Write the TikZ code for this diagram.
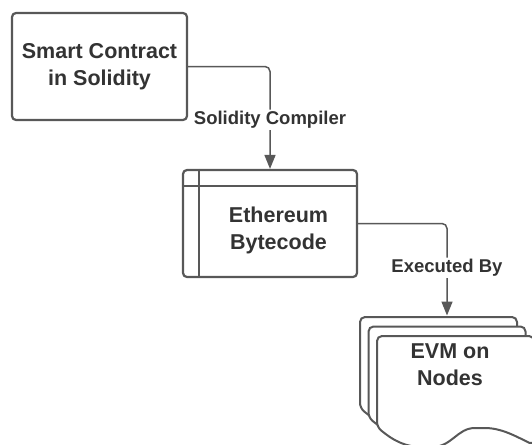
\documentclass[tikz,border=0pt]{standalone}
\usepackage{fontspec}
\setmainfont{Liberation Sans}
\usetikzlibrary{arrows.meta, positioning}
\definecolor{edgegray}{RGB}{88,88,88}
\definecolor{textgray}{RGB}{51,51,51}
\tikzset{
    block/.style={
        rectangle, draw=edgegray, line width=2.2pt, rounded corners=4pt,
        minimum width=175pt, minimum height=107pt,
        fill=white, align=center, text=textgray,
        font=\fontsize{21.5}{27}\selectfont\bfseries
    },
    boxtext/.style={
        align=center, text=textgray,
        font=\fontsize{21.5}{27}\selectfont\bfseries
    },
    layer/.style={draw=edgegray, line width=2pt, fill=white, rounded corners=5pt},
    wire/.style={draw=edgegray, line width=1.5pt, rounded corners=5pt,
        -{Triangle[length=14pt, width=11pt]}},
    wirelabel/.style={fill=white, inner sep=1.5pt, text=textgray,
        font=\fontsize{18.5}{22}\selectfont\bfseries}
}

\begin{document}
\begin{tikzpicture}[x=1pt, y=-1pt]
\useasboundingbox (0,0) rectangle (532,444);
\clip (0,0) rectangle (532,444);

% Source contract
\node[block] (contract) at (99.5,66.5) {Smart Contract\\in Solidity};

% Bytecode (internal storage box)
\node[block, minimum width=174pt] (bytecode) at (270,223.5) {};
\draw[edgegray, line width=2.2pt] ([xshift=17pt]bytecode.north west) -- ([xshift=17pt]bytecode.south west);
\draw[edgegray, line width=2.2pt] ([yshift=-17pt]bytecode.north west) -- ([yshift=-17pt]bytecode.north east);
\node[boxtext] (bytecodetext) at (278.5,230) {Ethereum\\Bytecode};

% EVM on nodes (stacked documents, back to front)
\foreach \l/\t/\b in {360/317/408, 368.5/326.5/417.5, 377/336/427} {
    \draw[layer] (\l,\b) -- (\l,\t) -- (\l+157,\t) -- (\l+157,\b+18)
        .. controls (\l+140,\b+10) and (\l+125,\b+1) .. (\l+103,\b+1)
        .. controls (\l+80,\b+1) and (\l+75,\b+20) .. (\l+50,\b+20)
        .. controls (\l+30,\b+20) and (\l+18,\b+15) .. (\l,\b) -- cycle;
}
\node[boxtext] (evm) at (450,365) {EVM on\\Nodes};
\coordinate (evmtop) at (447,315.5);

% Connections
\draw[wire] (contract.east) -| node[wirelabel, pos=0.76] (compiler) {Solidity Compiler} (bytecode.north);
\draw[wire] (bytecode.east) -| node[wirelabel, pos=0.74] (executed) {Executed By} (evmtop);

\end{tikzpicture}
\end{document}
